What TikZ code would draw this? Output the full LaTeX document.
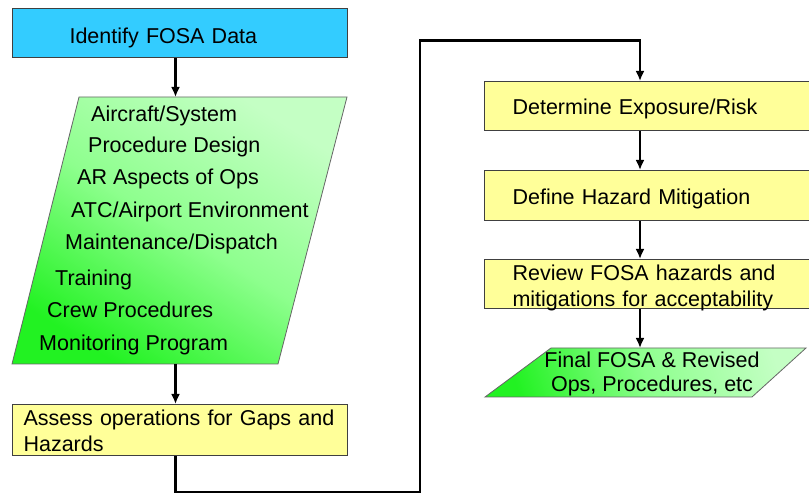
\documentclass[tikz,border=0pt]{standalone}
\usepackage{fontspec}
\setmainfont{Liberation Sans}
\usepackage{tikz}
\usetikzlibrary{arrows.meta}

\definecolor{fosacyan}{HTML}{33CCFF}
\definecolor{fosayellow}{HTML}{FFFF99}
\definecolor{palegreen}{HTML}{C4FFC4}
\definecolor{midgreen}{HTML}{8EFF8E}
\definecolor{vividgreen}{HTML}{22F222}
\definecolor{boxline}{HTML}{404040}

\begin{document}
\begin{tikzpicture}[x=1pt, y=-1pt,
        font=\fontsize{21.5}{26}\selectfont,
        stepbox/.style={rectangle, draw=boxline, line width=1.1pt, anchor=north west,
            minimum width=335pt, inner ysep=0pt, align=left},
        databox/.style={draw=boxline!80, line width=0.8pt, top color=palegreen,
            bottom color=vividgreen, middle color=midgreen, shading angle=-32},
        flow/.style={-{Latex[length=10pt,width=9pt]}, line width=2.4pt, black}]
        \clip (0,0) rectangle (809,494);

        % Left column
        \node [stepbox, fill=fosacyan, minimum height=49pt, inner xsep=57pt, text width=221pt,
            text height=24.9pt, text depth=4.5pt] (identify) at (12,8) {Identify FOSA Data};
        \path [databox] (79,97) -- (347,97) -- (278,364) -- (12,364) -- cycle;
        \coordinate (datain) at (175.5,97);
        \coordinate (dataout) at (175.5,364);
        \foreach \x/\y/\item [count=\i] in {91/121.7/{Aircraft/System}, 88/152.7/{Procedure Design},
            77/184.7/{AR Aspects of Ops}, 71/217.7/{ATC/Airport Environment},
            65/249.7/{Maintenance/Dispatch}, 55/285.7/{Training},
            47/317.7/{Crew Procedures}, 39/350.7/{Monitoring Program}}
            \node [anchor=base west, inner sep=0pt] (item\i) at (\x,\y) {\item};
        \node [stepbox, fill=fosayellow, minimum height=51pt, inner xsep=11pt, text width=313pt,
            text height=15.7pt, text depth=24.7pt] (assess) at (12,404)
            {Assess operations for Gaps and\\Hazards};

        % Right column
        \node [stepbox, fill=fosayellow, minimum height=49pt, inner xsep=28pt, text width=279pt,
            text height=22.1pt, text depth=4.5pt] (risk) at (484,81) {Determine Exposure/Risk};
        \node [stepbox, fill=fosayellow, minimum height=50pt, inner xsep=28pt, text width=279pt,
            text height=23.1pt, text depth=4.5pt] (mitig) at (484,170) {Define Hazard Mitigation};
        \node [stepbox, fill=fosayellow, minimum height=49pt, inner xsep=28pt, text width=279pt,
            text height=15.7pt, text depth=22.7pt] (review) at (484,259)
            {Review FOSA hazards and\\mitigations for acceptability};
        \path [databox, shading angle=-72] (551,348) -- (806,348) -- (752,397) -- (485,397) -- cycle;
        \coordinate (finalin) at (640,348);
        \node [align=center, inner sep=0pt] (finaltext) at (652,374)
            {Final FOSA \& Revised\\[-2pt]Ops, Procedures, etc};

        % Connectors
        \coordinate (loopbot) at (420,492);
        \coordinate (looptop) at (420,40.5);
        \draw [flow] (identify.south -| datain) -- (datain);
        \draw [flow] (dataout) -- (dataout |- assess.north);
        \draw [flow] (assess.south -| dataout) |- (loopbot) -- (looptop) -| (risk.north -| finalin);
        \draw [flow] (risk.south -| finalin) -- (mitig.north -| finalin);
        \draw [flow] (mitig.south -| finalin) -- (review.north -| finalin);
        \draw [flow] (review.south -| finalin) -- (finalin);
\end{tikzpicture}
\end{document}
